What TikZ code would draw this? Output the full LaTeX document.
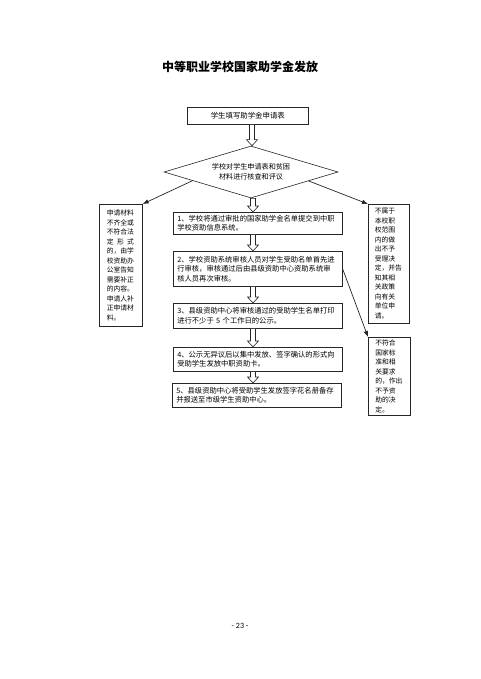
\documentclass[tikz,border=0pt]{standalone}
\usepackage{fontspec}
\setmainfont{Liberation Serif}
\newfontfamily\cjk{Noto Sans CJK SC}
\newfontfamily\pnfont{Carlito}
\usetikzlibrary{shapes.geometric,arrows.meta,calc}
\tikzset{
  box/.style={draw=black!85, line width=0.6pt, inner sep=0pt, anchor=north west},
  stxt/.style={font=\cjk\fontsize{7.3}{9.5}\selectfont, align=left, text width=161pt},
  sidetxt/.style={font=\cjk\fontsize{6.8}{9.5}\selectfont, align=left, text width=28pt},
  sidearrow/.style={draw=black!85, line width=0.7pt, -{Latex[length=6pt,width=4.5pt]}},
  hollowarr/.style={draw=black!85, line width=0.6pt, fill=white},
}
\newcommand\harr[3]{%
  \draw[hollowarr] let \p1=(#1,0 |- #2.south), \p2=(#1,0 |- #3.north) in
    (\x1-2.5pt,\y1) -- (\x1+2.5pt,\y1) -- (\x1+2.5pt,\y2+6pt) -- (\x1+5.5pt,\y2+6pt)
    -- (\x1,\y2) -- (\x1-5.5pt,\y2+6pt) -- (\x1-2.5pt,\y2+6pt) -- cycle;}
\begin{document}
\begin{tikzpicture}[x=1pt,y=-1pt]
\path[use as bounding box, fill=white] (0,0) rectangle (480,679);

\node[font=\cjk\bfseries\fontsize{12}{12}\selectfont] (title) at (240,67) {中等职业学校国家助学金发放};

\node[box, font=\cjk\fontsize{7.4}{9}\selectfont, minimum width=121pt, minimum height=17pt] (start) at (187,107) {学生填写助学金申请表};

\node[diamond, draw=black!85, line width=0.6pt, aspect=3.346, minimum width=174pt, minimum height=52pt, inner sep=0pt, align=center, font=\cjk\fontsize{7.1}{10}\selectfont] (dia) at (251,172) {学校对学生申请表和贫困\\材料进行核查和评议};

\node[box, stxt, minimum width=169pt, minimum height=22pt] (s1) at (173,212)
  {1、学校将通过审批的国家助学金名单提交到中职\\学校资助信息系统。};
\node[box, stxt, minimum width=169pt, minimum height=35pt] (s2) at (173,251)
  {2、学校资助系统审核人员对学生受助名单首先进\\行审核，审核通过后由县级资助中心资助系统审\\核人员再次审核。};
\node[box, stxt, minimum width=169pt, minimum height=25pt] (s3) at (173,303)
  {3、县级资助中心将审核通过的受助学生名单打印\\进行不少于 5 个工作日的公示。};
\node[box, stxt, minimum width=169pt, minimum height=24pt] (s4) at (173,347)
  {4、公示无异议后以集中发放、签字确认的形式向\\受助学生发放中职资助卡。};
\node[box, stxt, minimum width=169pt, minimum height=24pt] (s5) at (172,383)
  {5、县级资助中心将受助学生发放签字花名册备存\\并报送至市级学生资助中心。};

\node[box, sidetxt, minimum width=43pt, minimum height=122pt] (lbox) at (99,204)
  {申请材料\\不齐全或\\不符合法\\\makebox[4em][s]{定\hfill 形\hfill 式}\\的，由学\\校资助办\\公室告知\\需要补正\\的内容。\\申请人补\\正申请材\\料。};

\node[box, sidetxt, minimum width=41pt, minimum height=119pt] (r1) at (368,204)
  {不属于\\本校职\\权范围\\内的做\\出不予\\受理决\\定，并告\\知其相\\关政策\\向有关\\单位申\\请。};

\node[box, sidetxt, minimum width=42pt, minimum height=78pt] (r2) at (368,337)
  {不符合\\国家标\\准和相\\关要求\\的，作出\\不予资\\助的决\\定。};

\harr{252}{start}{dia}
\harr{253}{dia}{s1}
\harr{253}{s1}{s2}
\harr{253}{s2}{s3}
\harr{253}{s3}{s4}
\harr{253}{s4}{s5}

\draw[sidearrow] ($(dia.west)!0.33!(dia.south)$) -- (lbox.north east);
\draw[sidearrow] ($(dia.east)!0.34!(dia.south)$) -- (r1.north west);
\draw[sidearrow] (s2.east) -- (r2.north west);

\node[font=\pnfont\fontsize{8}{8}\selectfont] (pn) at (240,626) {- 23 -};
\end{tikzpicture}
\end{document}
